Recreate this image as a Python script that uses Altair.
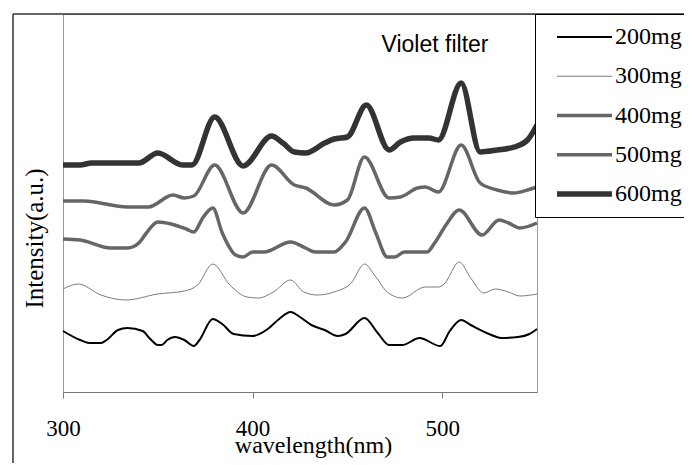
import altair as alt
import pandas as pd

series = ["200mg", "300mg", "400mg", "500mg", "600mg"]

wl_200 = [300, 309, 314, 320, 323, 329, 334, 342, 346, 350, 352, 355, 359, 364, 369, 372, 379, 384, 390, 400,
          408, 414, 420, 425, 431, 438, 445, 449, 459, 466, 472, 479, 488, 499, 504, 510, 515, 526, 531, 540,
          546, 550]
int_200 = [61, 52, 49, 49, 52, 62, 64, 61, 53, 47, 47, 52, 55, 52, 46, 52, 73, 68, 58, 56,
           63, 73, 80, 75, 67, 62, 56, 58, 74, 59, 47, 47, 54, 46, 61, 72, 67, 57, 54, 55,
           58, 63]

wl_300 = [300, 308, 320, 333, 350, 364, 371, 379, 388, 397, 403, 411, 420, 427, 434, 443, 452, 459, 465, 471,
          479, 491, 498, 501, 509, 515, 522, 528, 535, 541, 550]
int_300 = [103, 108, 97, 92, 98, 101, 107, 128, 107, 95, 94, 100, 112, 100, 97, 100, 109, 128, 115, 100,
           94, 105, 105, 108, 130, 114, 99, 103, 100, 96, 98]

wl_400 = [300, 309, 325, 334, 340, 344, 350, 357, 365, 369, 374, 379, 384, 391, 395, 400, 406, 420, 428, 433,
          443, 449, 459, 465, 471, 475, 480, 492, 496, 502, 509, 521, 530, 535, 541, 550]
int_400 = [153, 152, 144, 144, 149, 159, 170, 168, 163, 160, 175, 184, 159, 137, 135, 140, 140, 150, 144, 140,
           140, 150, 184, 159, 135, 135, 140, 140, 149, 167, 182, 157, 172, 169, 164, 169]

wl_500 = [300, 311, 334, 345, 358, 364, 369, 380, 395, 410, 422, 428, 443, 450, 459, 472, 478, 487, 491, 498,
          510, 520, 529, 538, 545, 550]
int_500 = [191, 191, 185, 185, 197, 194, 196, 227, 179, 227, 207, 204, 187, 192, 235, 194, 195, 204, 205, 200,
           247, 209, 202, 199, 202, 205]

wl_600 = [300, 309, 315, 340, 350, 363, 368, 380, 395, 410, 416, 422, 428, 438, 443, 450, 460, 472, 478, 485,
          493, 498, 510, 520, 529, 538, 545, 550]
int_600 = [227, 227, 229, 229, 239, 227, 227, 275, 226, 256, 249, 240, 239, 249, 253, 255, 287, 242, 250, 254,
           254, 252, 309, 240, 242, 245, 252, 267]

x_ticks = [300, 400, 500]
colors = ["#000000", "#7a7a7a", "#666666", "#666666", "#333333"]
widths = [2, 1, 3.5, 3.5, 5.5]

rows = []
for name, wls, vals in zip(series, [wl_200, wl_300, wl_400, wl_500, wl_600],
                           [int_200, int_300, int_400, int_500, int_600]):
    for w, v in zip(wls, vals):
        rows.append({"series": name, "wavelength": w, "intensity": v})
df = pd.DataFrame(rows)

SERIF = "Liberation Serif, Times New Roman, serif"

legend = alt.Legend(
    orient="none", legendX=472, legendY=0,
    symbolType="stroke", symbolSize=3025, symbolOffset=8,
    labelFont=SERIF, labelFontSize=24, labelColor="black", labelOffset=0,
    padding=11, rowPadding=15.25, clipHeight=24,
    strokeColor="black", fillColor="white",
)

lines = alt.Chart(df).mark_line(interpolate="monotone").encode(
    x=alt.X("wavelength:Q",
            scale=alt.Scale(domain=[300, 550], nice=False, zero=False),
            axis=alt.Axis(values=x_ticks, format="d", title="wavelength(nm)",
                          titleFont=SERIF, titleFontSize=24, titleFontWeight="normal",
                          titleColor="black", titleX=250, titleY=60, titleBaseline="alphabetic",
                          titleAlign="center",
                          labelFont=SERIF, labelFontSize=23, labelColor="black",
                          labelPadding=19, tickSize=6, tickColor="#777", domainColor="#777",
                          grid=False, labelFlush=False)),
    y=alt.Y("intensity:Q",
            scale=alt.Scale(domain=[0, 378], nice=False),
            axis=alt.Axis(labels=False, ticks=False, grid=False, domainColor="#999",
                          title="Intensity(a.u.)", titleFont=SERIF, titleFontSize=25,
                          titleFontWeight="normal", titleColor="black", titleX=-21, titleY=224,
                          titleBaseline="alphabetic", titleAlign="center", titleAngle=270)),
    color=alt.Color("series:N", scale=alt.Scale(type="ordinal", domain=series, range=colors),
                    title=None, legend=legend),
    strokeWidth=alt.StrokeWidth("series:N", scale=alt.Scale(type="ordinal", domain=series, range=widths),
                                title=None, legend=legend),
)

dummy = pd.DataFrame({"k": [0]})
frame_left = alt.Chart(dummy).mark_rule(color="#333", strokeWidth=1.5).encode(
    x=alt.value(-50), y=alt.value(0), y2=alt.value(460))
frame_top = alt.Chart(dummy).mark_rule(color="#333", strokeWidth=1.5).encode(
    x=alt.value(-50), x2=alt.value(640), y=alt.value(0))
label = alt.Chart(dummy).mark_text(text="Violet filter", font="Liberation Sans, Arial, sans-serif",
                                   fontSize=23, align="center", baseline="alphabetic",
                                   color="black").encode(
    x=alt.value(372), y=alt.value(38))

chart = alt.layer(frame_left, frame_top, lines, label).properties(
    width=474, height=378,
    padding={"left": 55, "top": 6, "right": 147, "bottom": 71},
    autosize="none",
).configure_view(stroke="#999", strokeWidth=1)

chart.save("out.html", embed_options={"renderer": "svg", "actions": False})
